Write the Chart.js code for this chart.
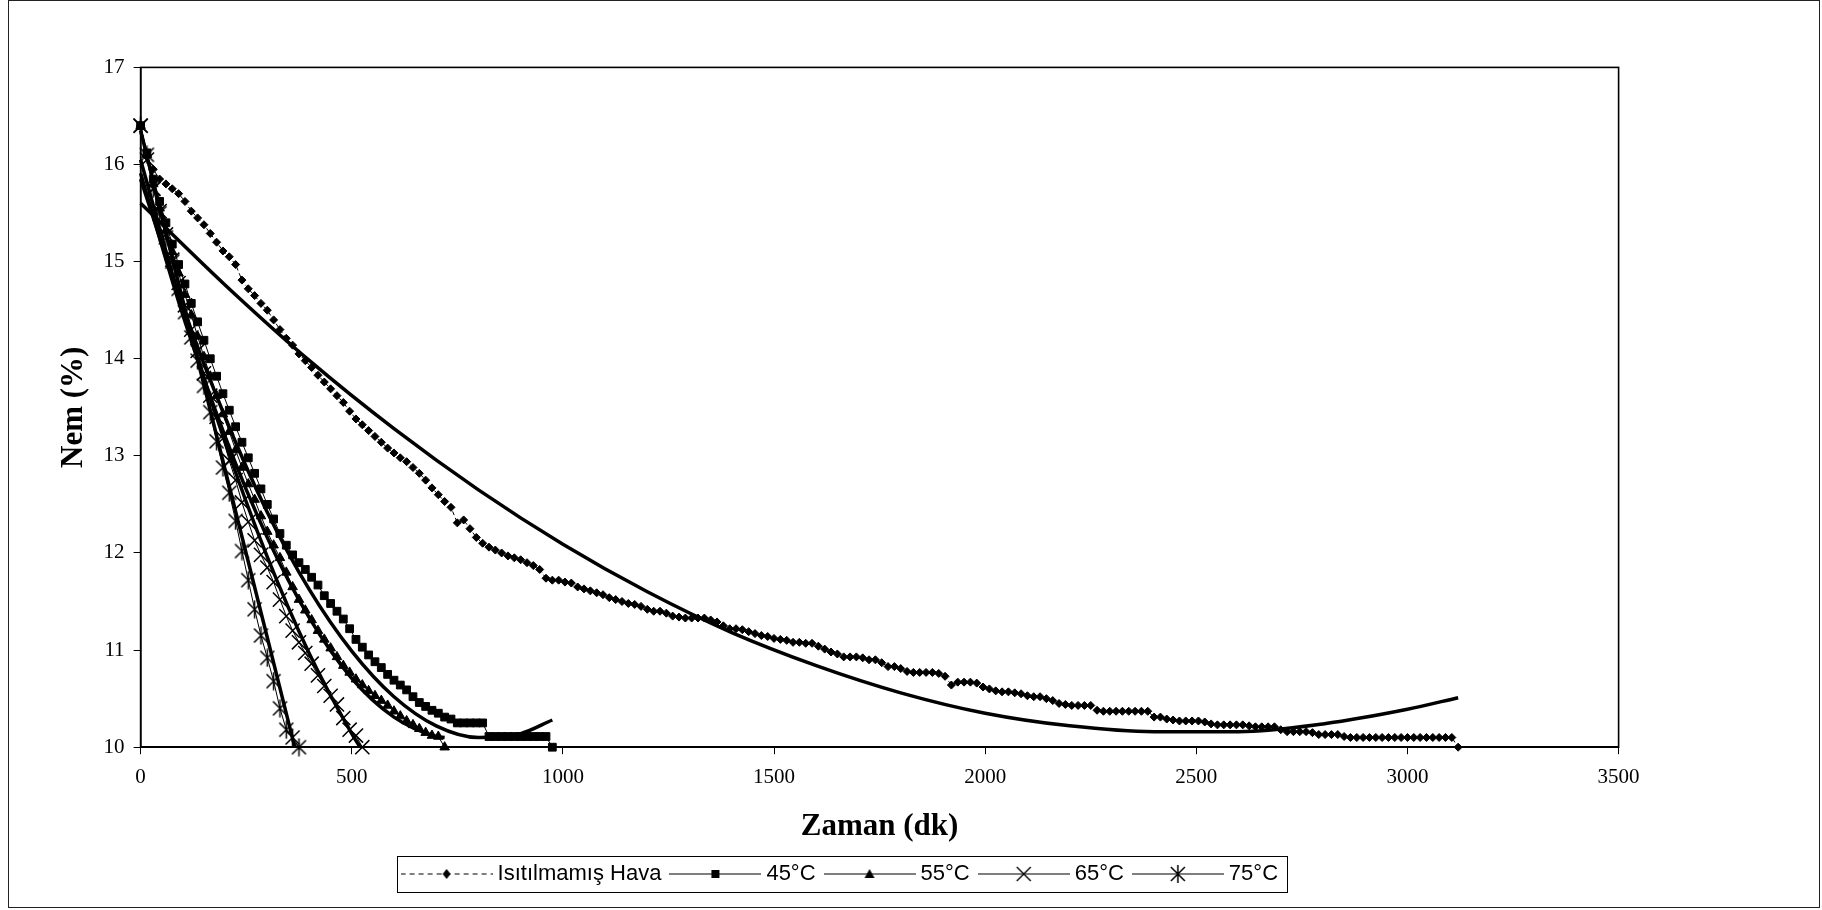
<!DOCTYPE html>
<html lang="tr">
<head>
<meta charset="utf-8">
<title>Nem - Zaman</title>
<script src="https://cdn.jsdelivr.net/npm/chart.js@4.4.1/dist/chart.umd.min.js"></script>
<style>
  html, body { margin: 0; padding: 0; background: #fff; }
  #grafik { display: block; }
</style>
</head>
<body>
<canvas id="grafik" width="1822" height="910"></canvas>
<script>
// Eksen bölmeleri
const xTicks = [0, 500, 1000, 1500, 2000, 2500, 3000, 3500];
const yTicks = [10, 11, 12, 13, 14, 15, 16, 17];

const seriesNames = ['Isıtılmamış Hava', '45°C', '55°C', '65°C', '75°C'];

// Isıtılmamış hava ölçümleri (dk, %)
const havaZaman = [
  0, 15, 30, 45, 60, 75, 90, 105, 120, 135,
  150, 165, 180, 195, 210, 225, 240, 255, 270, 285,
  300, 315, 330, 345, 360, 375, 390, 405, 420, 435,
  450, 465, 480, 495, 510, 525, 540, 555, 570, 585,
  600, 615, 630, 645, 660, 675, 690, 705, 720, 735,
  750, 765, 780, 795, 810, 825, 840, 855, 870, 885,
  900, 915, 930, 945, 960, 975, 990, 1005, 1020, 1035,
  1050, 1065, 1080, 1095, 1110, 1125, 1140, 1155, 1170, 1185,
  1200, 1215, 1230, 1245, 1260, 1275, 1290, 1305, 1320, 1335,
  1350, 1365, 1380, 1395, 1410, 1425, 1440, 1455, 1470, 1485,
  1500, 1515, 1530, 1545, 1560, 1575, 1590, 1605, 1620, 1635,
  1650, 1665, 1680, 1695, 1710, 1725, 1740, 1755, 1770, 1785,
  1800, 1815, 1830, 1845, 1860, 1875, 1890, 1905, 1920, 1935,
  1950, 1965, 1980, 1995, 2010, 2025, 2040, 2055, 2070, 2085,
  2100, 2115, 2130, 2145, 2160, 2175, 2190, 2205, 2220, 2235,
  2250, 2265, 2280, 2295, 2310, 2325, 2340, 2355, 2370, 2385,
  2400, 2415, 2430, 2445, 2460, 2475, 2490, 2505, 2520, 2535,
  2550, 2565, 2580, 2595, 2610, 2625, 2640, 2655, 2670, 2685,
  2700, 2715, 2730, 2745, 2760, 2775, 2790, 2805, 2820, 2835,
  2850, 2865, 2880, 2895, 2910, 2925, 2940, 2955, 2970, 2985,
  3000, 3015, 3030, 3045, 3060, 3075, 3090, 3105, 3120
];
const havaNem = [
  16.40, 16.08, 15.95, 15.85, 15.80, 15.75, 15.70, 15.62, 15.52, 15.45,
  15.38, 15.29, 15.20, 15.11, 15.05, 14.97, 14.81, 14.72, 14.65, 14.57,
  14.50, 14.40, 14.30, 14.21, 14.14, 14.05, 13.98, 13.91, 13.83, 13.76,
  13.69, 13.62, 13.55, 13.46, 13.38, 13.32, 13.26, 13.20, 13.14, 13.08,
  13.03, 12.98, 12.94, 12.88, 12.82, 12.75, 12.67, 12.60, 12.53, 12.47,
  12.31, 12.34, 12.25, 12.16, 12.10, 12.06, 12.03, 12.00, 11.97, 11.95,
  11.93, 11.90, 11.87, 11.83, 11.74, 11.72, 11.72, 11.70, 11.69, 11.65,
  11.63, 11.61, 11.59, 11.57, 11.54, 11.52, 11.50, 11.48, 11.47, 11.45,
  11.42, 11.40, 11.40, 11.38, 11.35, 11.34, 11.33, 11.33, 11.33, 11.33,
  11.31, 11.29, 11.25, 11.22, 11.22, 11.21, 11.19, 11.17, 11.15, 11.14,
  11.12, 11.11, 11.10, 11.08, 11.08, 11.07, 11.07, 11.04, 11.01, 10.98,
  10.96, 10.93, 10.93, 10.93, 10.92, 10.90, 10.90, 10.87, 10.83, 10.83,
  10.81, 10.78, 10.77, 10.77, 10.77, 10.77, 10.76, 10.73, 10.64, 10.67,
  10.67, 10.67, 10.66, 10.62, 10.60, 10.58, 10.57, 10.57, 10.56, 10.55,
  10.53, 10.52, 10.52, 10.50, 10.48, 10.45, 10.44, 10.43, 10.43, 10.43,
  10.43, 10.38, 10.37, 10.37, 10.37, 10.37, 10.37, 10.37, 10.37, 10.37,
  10.31, 10.31, 10.29, 10.28, 10.27, 10.27, 10.27, 10.27, 10.26, 10.24,
  10.23, 10.23, 10.23, 10.23, 10.23, 10.22, 10.21, 10.21, 10.21, 10.21,
  10.18, 10.16, 10.16, 10.16, 10.16, 10.15, 10.13, 10.13, 10.13, 10.13,
  10.11, 10.10, 10.10, 10.10, 10.10, 10.10, 10.10, 10.10, 10.10, 10.10,
  10.10, 10.10, 10.10, 10.10, 10.10, 10.10, 10.10, 10.10, 10.00
];

// 45°C
const zaman45 = [
  0, 15, 30, 45, 60, 75, 90, 105, 120, 135,
  150, 165, 180, 195, 210, 225, 240, 255, 270, 285,
  300, 315, 330, 345, 360, 375, 390, 405, 420, 435,
  450, 465, 480, 495, 510, 525, 540, 555, 570, 585,
  600, 615, 630, 645, 660, 675, 690, 705, 720, 735,
  750, 765, 780, 795, 810, 825, 840, 855, 870, 885,
  900, 915, 930, 945, 960, 975
];
const nem45 = [
  16.40, 16.12, 15.85, 15.62, 15.40, 15.18, 14.97, 14.77, 14.57, 14.38,
  14.19, 14.00, 13.82, 13.64, 13.47, 13.30, 13.14, 12.98, 12.82, 12.66,
  12.50, 12.35, 12.20, 12.08, 11.98, 11.90, 11.83, 11.75, 11.67, 11.56,
  11.48, 11.40, 11.32, 11.22, 11.11, 11.03, 10.95, 10.88, 10.82, 10.75,
  10.69, 10.64, 10.59, 10.52, 10.46, 10.42, 10.38, 10.35, 10.31, 10.29,
  10.25, 10.25, 10.25, 10.25, 10.25, 10.11, 10.11, 10.11, 10.11, 10.11,
  10.11, 10.11, 10.11, 10.11, 10.11, 10.00
];

// 55°C
const zaman55 = [
  0, 15, 30, 45, 60, 75, 90, 105, 120, 135,
  150, 165, 180, 195, 210, 225, 240, 255, 270, 285,
  300, 315, 330, 345, 360, 375, 390, 405, 420, 435,
  450, 465, 480, 495, 510, 525, 540, 555, 570, 585,
  600, 615, 630, 645, 660, 675, 690, 705, 720
];
const nem55 = [
  16.40, 16.10, 15.80, 15.55, 15.32, 15.10, 14.88, 14.66, 14.45, 14.23,
  14.02, 13.82, 13.62, 13.43, 13.25, 13.06, 12.88, 12.71, 12.55, 12.38,
  12.22, 12.08, 11.95, 11.80, 11.65, 11.52, 11.41, 11.31, 11.20, 11.11,
  11.02, 10.93, 10.84, 10.77, 10.70, 10.64, 10.58, 10.53, 10.48, 10.43,
  10.37, 10.32, 10.27, 10.23, 10.19, 10.15, 10.12, 10.11, 10.00
];

// 65°C
const zaman65 = [
  0, 15, 30, 45, 60, 75, 90, 105, 120, 135,
  150, 165, 180, 195, 210, 225, 240, 255, 270, 285,
  300, 315, 330, 345, 360, 375, 390, 405, 420, 435,
  450, 465, 480, 495, 510, 525
];
const nem65 = [
  16.40, 16.05, 15.75, 15.52, 15.28, 15.02, 14.78, 14.55, 14.30, 14.08,
  13.85, 13.62, 13.40, 13.18, 12.95, 12.75, 12.52, 12.32, 12.13, 11.98,
  11.85, 11.70, 11.52, 11.35, 11.20, 11.08, 10.97, 10.86, 10.74, 10.63,
  10.53, 10.44, 10.30, 10.18, 10.12, 10.00
];

// 75°C
const zaman75 = [
  0, 15, 30, 45, 60, 75, 90, 105, 120, 135,
  150, 165, 180, 195, 210, 225, 240, 255, 270, 285,
  300, 315, 330, 345, 360, 375
];
const nem75 = [
  16.40, 16.10, 15.75, 15.50, 15.25, 15.00, 14.72, 14.48, 14.22, 13.98,
  13.72, 13.45, 13.15, 12.88, 12.62, 12.33, 12.02, 11.72, 11.42, 11.15,
  10.92, 10.68, 10.40, 10.18, 10.10, 10.00
];

// Eğilim eğrileri (resimden okunan noktalar)
const havaEgriZaman = [0, 200, 400, 600, 800, 1000, 1200, 1400, 1600, 1800, 2000, 2200, 2400, 2600, 2800, 3000, 3120];
const havaEgriNem = [15.60, 14.76, 13.98, 13.28, 12.65, 12.09, 11.60, 11.18, 10.84, 10.56, 10.35, 10.22, 10.16, 10.16, 10.24, 10.39, 10.51];
const egri45Zaman = [0, 100, 200, 300, 400, 500, 600, 700, 800, 900, 975];
const egri45Nem = [15.85, 14.54, 13.40, 12.42, 11.62, 10.99, 10.52, 10.22, 10.10, 10.14, 10.28];
const egri55Zaman = [0, 100, 200, 300, 400, 500, 600, 700, 720];
const egri55Nem = [15.91, 14.45, 13.20, 12.16, 11.33, 10.71, 10.31, 10.11, 10.10];
const egri65Zaman = [0, 100, 200, 300, 400, 500, 520];
const egri65Nem = [16.05, 14.50, 13.14, 11.96, 10.96, 10.14, 10.00];
const egri75Zaman = [0, 100, 200, 300, 365];
const egri75Nem = [16.35, 14.60, 12.86, 11.13, 10.00];

const serifFont = "'Liberation Serif', 'Times New Roman', serif";
const sansFont = "'Liberation Sans', Arial, sans-serif";

const toPoints = (xs, ys) => xs.map((x, i) => ({ x: x, y: ys[i] }));

// küçük tuval simgeleri
function makeIcon(w, h, draw) {
  const c = document.createElement('canvas');
  c.width = w;
  c.height = h;
  const g = c.getContext('2d');
  g.strokeStyle = '#000';
  g.fillStyle = '#000';
  draw(g, w / 2, h / 2);
  return c;
}

const markers = {
  diamond: (g, cx, cy) => {
    g.beginPath();
    g.moveTo(cx, cy - 5); g.lineTo(cx + 4, cy); g.lineTo(cx, cy + 5); g.lineTo(cx - 4, cy);
    g.closePath(); g.fill();
  },
  square: (g, cx, cy) => { g.fillRect(cx - 4, cy - 4, 8, 8); },
  triangle: (g, cx, cy) => {
    g.beginPath();
    g.moveTo(cx, cy - 5); g.lineTo(cx + 5, cy + 4); g.lineTo(cx - 5, cy + 4);
    g.closePath(); g.fill();
  },
  cross: (g, cx, cy) => {
    g.lineWidth = 1.4;
    g.beginPath();
    g.moveTo(cx - 7, cy - 7); g.lineTo(cx + 7, cy + 7);
    g.moveTo(cx + 7, cy - 7); g.lineTo(cx - 7, cy + 7);
    g.stroke();
  },
  star: (g, cx, cy) => {
    g.lineWidth = 1.5;
    g.beginPath();
    g.moveTo(cx - 7, cy - 7); g.lineTo(cx + 7, cy + 7);
    g.moveTo(cx + 7, cy - 7); g.lineTo(cx - 7, cy + 7);
    g.moveTo(cx, cy - 9); g.lineTo(cx, cy + 9);
    g.stroke();
  }
};

const markerOrder = ['diamond', 'square', 'triangle', 'cross', 'star'];

// lejant: çizgi + işaret
const legendIcons = markerOrder.map((m, i) => makeIcon(92, 22, (g, cx, cy) => {
  g.lineWidth = 1.2;
  if (i === 0) g.setLineDash([5, 4]);
  g.beginPath();
  g.moveTo(0, cy); g.lineTo(92, cy);
  g.stroke();
  g.setLineDash([]);
  markers[m](g, cx, cy);
}));

const asteriskPoint = makeIcon(19, 19, (g, cx, cy) => markers.star(g, cx, cy));

function dataSet(label, xs, ys, style) {
  return Object.assign({
    label: label,
    data: toPoints(xs, ys),
    showLine: true,
    borderColor: '#000',
    backgroundColor: '#000',
    pointBorderColor: '#000',
    pointBackgroundColor: '#000',
    borderWidth: 1,
    pointBorderWidth: 1,
    clip: false
  }, style);
}

function trendSet(xs, ys) {
  return {
    label: 'trend',
    data: toPoints(xs, ys),
    showLine: true,
    borderColor: '#000',
    borderWidth: 3.5,
    pointRadius: 0,
    cubicInterpolationMode: 'monotone',
    clip: false
  };
}

// arka plan, çerçeveler
const frames = {
  id: 'frames',
  beforeDraw(chart) {
    const ctx = chart.ctx;
    ctx.save();
    ctx.fillStyle = '#fff';
    ctx.fillRect(0, 0, chart.width, chart.height);
    ctx.strokeStyle = '#222';
    ctx.lineWidth = 1;
    ctx.strokeRect(8.5, 0.5, 1811, 907);
    ctx.restore();
  },
  beforeDatasetsDraw(chart) {
    const a = chart.chartArea;
    const ctx = chart.ctx;
    ctx.save();
    ctx.strokeStyle = '#000';
    ctx.lineWidth = 1.6;
    ctx.strokeRect(a.left, a.top, a.right - a.left, a.bottom - a.top);
    ctx.restore();
  },
  afterDraw(chart) {
    const hb = chart.legend.legendHitBoxes;
    if (!hb || !hb.length) return;
    const last = hb[hb.length - 1];
    const x0 = hb[0].left - 10;
    const x1 = last.left + last.width + 9;
    const cy = hb[0].top + hb[0].height / 2;
    const ctx = chart.ctx;
    ctx.save();
    ctx.strokeStyle = '#000';
    ctx.lineWidth = 1;
    ctx.strokeRect(Math.round(x0) + 0.5, Math.round(cy - 18) + 0.5, Math.round(x1 - x0), 36);
    ctx.restore();
  }
};

new Chart(document.getElementById('grafik'), {
  type: 'scatter',
  data: {
    datasets: [
      dataSet(seriesNames[0], havaZaman, havaNem, { borderDash: [4, 3], pointStyle: 'rectRot', pointRadius: 4 }),
      dataSet(seriesNames[1], zaman45, nem45, { pointStyle: 'rect', pointRadius: 5.5 }),
      dataSet(seriesNames[2], zaman55, nem55, { pointStyle: 'triangle', pointRadius: 5.5 }),
      dataSet(seriesNames[3], zaman65, nem65, { pointStyle: 'crossRot', pointRadius: 10, pointBorderWidth: 1.5 }),
      dataSet(seriesNames[4], zaman75, nem75, { pointStyle: asteriskPoint }),
      trendSet(havaEgriZaman, havaEgriNem),
      trendSet(egri45Zaman, egri45Nem),
      trendSet(egri55Zaman, egri55Nem),
      trendSet(egri65Zaman, egri65Nem),
      trendSet(egri75Zaman, egri75Nem)
    ]
  },
  options: {
    responsive: false,
    animation: false,
    devicePixelRatio: 1,
    events: [],
    layout: {
      padding: { left: 66, right: 203.4, top: 67.4, bottom: 15 }
    },
    plugins: {
      tooltip: { enabled: false },
      legend: {
        position: 'bottom',
        labels: {
          usePointStyle: true,
          pointStyleWidth: 80,
          padding: 14,
          color: '#000',
          font: { family: sansFont, size: 22 },
          generateLabels: () => seriesNames.map((name, i) => ({
            text: name,
            pointStyle: legendIcons[i],
            fillStyle: '#000',
            strokeStyle: '#000',
            fontColor: '#000',
            lineWidth: 0,
            hidden: false,
            datasetIndex: i
          }))
        }
      }
    },
    scales: {
      x: {
        type: 'linear',
        min: xTicks[0],
        max: xTicks[xTicks.length - 1],
        afterBuildTicks: s => { s.ticks = xTicks.map(v => ({ value: v })); },
        afterFit: s => { s.height = 101.8; },
        grid: { display: true, drawOnChartArea: false, drawTicks: true, tickLength: 7, color: '#000', lineWidth: 1 },
        border: { display: true, color: '#000', width: 1.6 },
        ticks: {
          color: '#000',
          padding: 11,
          maxRotation: 0,
          font: { family: serifFont, size: 21 },
          callback: v => String(v)
        },
        title: {
          display: true,
          text: 'Zaman (dk)',
          color: '#000',
          font: { family: serifFont, size: 31, weight: 'bold', lineHeight: 1.2 },
          padding: { top: 0, bottom: 3.4 }
        }
      },
      y: {
        type: 'linear',
        min: yTicks[0],
        max: yTicks[yTicks.length - 1],
        afterBuildTicks: s => { s.ticks = yTicks.map(v => ({ value: v })); },
        afterFit: s => { s.width = 74.6; },
        grid: { display: true, drawOnChartArea: false, drawTicks: true, tickLength: 7, color: '#000', lineWidth: 1 },
        border: { display: true, color: '#000', width: 1.6 },
        ticks: {
          color: '#000',
          padding: 9,
          font: { family: serifFont, size: 21 },
          callback: v => String(v)
        },
        title: {
          display: true,
          text: 'Nem (%)',
          color: '#000',
          font: { family: serifFont, size: 31, weight: 'bold', lineHeight: 1.2 },
          padding: { top: -10.2, bottom: 0 }
        }
      }
    }
  },
  plugins: [frames]
});
</script>
</body>
</html>
